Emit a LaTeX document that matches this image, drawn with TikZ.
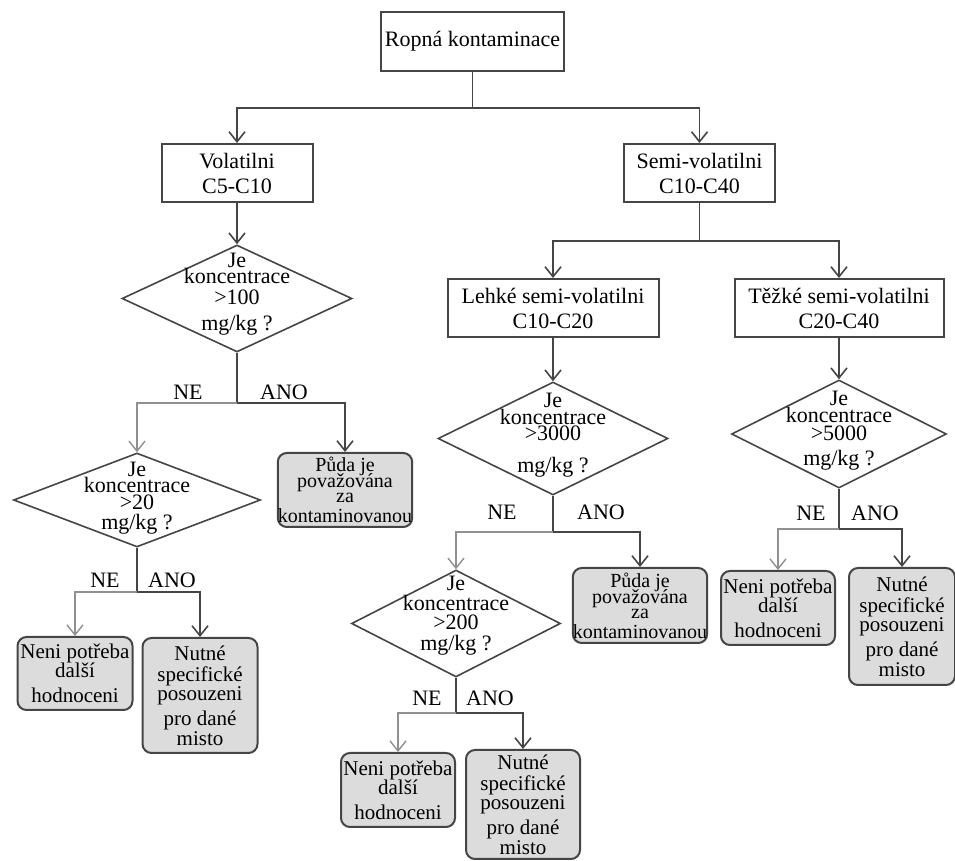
\documentclass[tikz,border=0pt]{standalone}
\usepackage{fontspec}
\setmainfont{Liberation Serif}
\usepackage{xcolor}
\usepackage{tikz}
\usetikzlibrary{shapes,arrows.meta}
\definecolor{linegray}{HTML}{454545}
\definecolor{negray}{HTML}{909090}
\definecolor{leafgray}{HTML}{DCDCDC}
\tikzset{
    box/.style={draw=linegray, line width=1pt, rectangle, inner sep=0pt, align=center, font=\fontsize{11}{12.5}\selectfont},
    leaf/.style={draw=linegray, line width=1pt, rectangle, rounded corners=4.5pt, fill=leafgray, inner sep=0pt, align=center, font=\fontsize{10.5}{10}\selectfont},
    question/.style={draw=linegray, line width=0.8pt, diamond, inner sep=0pt},
    qtext/.style={align=center, inner sep=0pt, font=\fontsize{11}{10}\selectfont},
    answer/.style={inner sep=0pt, font=\fontsize{11}{12}\selectfont},
    vtip/.tip={Straight Barb[length=5pt,width=8pt]},
    link/.style={draw=linegray, line width=0.8pt},
    nolink/.style={draw=negray, line width=0.7pt}}

\begin{document}
\begin{tikzpicture}[x=0.5pt,y=-0.5pt]
\useasboundingbox (0,0) rectangle (955,861);

\node[box, minimum width=91.5pt, minimum height=29.5pt] (top) at (472.5,41.5) {Ropná kontaminace};
\node[box, minimum width=75.5pt, minimum height=29pt] (vol) at (237,173) {Volatilni\\C5-C10};
\node[box, minimum width=75.5pt, minimum height=29pt] (semi) at (699.5,173) {Semi-volatilni\\C10-C40};
\node[box, minimum width=105.5pt, minimum height=29pt] (light) at (553,308) {Lehké semi-volatilni\\C10-C20};
\node[box, minimum width=104.5pt, minimum height=29pt] (heavy) at (839,308) {Těžké semi-volatilni\\C20-C40};

\node[question, minimum width=115pt, minimum height=53.5pt] (q1) at (237,298.5) {};
\node[qtext] (q1t) at (237,294) {Je\\[-2pt]koncentrace\\[0.5pt]>100\\[3pt]mg/kg ?};
\node[question, minimum width=123.5pt, minimum height=47pt] (q2) at (137,500) {};
\node[qtext] (q2t) at (137,498) {Je\\[-2pt]koncentrace\\[-1.5pt]>20\\mg/kg ?};
\node[question, minimum width=115pt, minimum height=56.5pt] (q3) at (553,438.5) {};
\node[qtext] (q3t) at (553,435) {Je\\[-1.5pt]koncentrace\\[-2pt]>3000\\[6pt]mg/kg ?};
\node[question, minimum width=104.5pt, minimum height=53.5pt] (q4) at (456,623.5) {};
\node[qtext] (q4t) at (456,615.5) {Je\\koncentrace\\[-0.5pt]>200\\[0.5pt]mg/kg ?};
\node[question, minimum width=107.5pt, minimum height=54pt] (q5) at (839,434) {};
\node[qtext] (q5t) at (839,430.5) {Je\\[-1.5pt]koncentrace\\[-1pt]>5000\\[2.5pt]mg/kg ?};

\node[leaf, minimum width=64.5pt, minimum height=37pt, font=\fontsize{10}{10}\selectfont] (p1) at (345,490) {Půda je\\[-2pt]považována\\[-2.5pt]za\\kontaminovanou};
\node[leaf, minimum width=57.5pt, minimum height=36.5pt] (n1) at (75,673.5) {Neni potřeba\\[-0.5pt]další\\[2.5pt]hodnoceni};
\node[leaf, minimum width=57.5pt, minimum height=57.5pt] (y1) at (200,695.5) {Nutné\\[0.5pt]specifické\\[-0.5pt]posouzeni\\[2.5pt]pro dané\\misto};
\node[leaf, minimum width=66pt, minimum height=37.5pt, font=\fontsize{10}{10}\selectfont] (p2) at (640,605.5) {Půda je\\[-2pt]považována\\[-2.5pt]za\\kontaminovanou};
\node[leaf, minimum width=57pt, minimum height=37pt] (n3) at (398,790) {Neni potřeba\\[-0.5pt]další\\[2.5pt]hodnoceni};
\node[leaf, minimum width=57pt, minimum height=54.5pt] (y3) at (523,804.5) {Nutné\\[0.5pt]specifické\\[-0.5pt]posouzeni\\[2.5pt]pro dané\\misto};
\node[leaf, minimum width=57pt, minimum height=37pt] (n5) at (778,608) {Neni potřeba\\[-0.5pt]další\\[2.5pt]hodnoceni};
\node[leaf, minimum width=53pt, minimum height=58.5pt] (y5) at (902,626.5) {Nutné\\[0.5pt]specifické\\[-0.5pt]posouzeni\\[2.5pt]pro dané\\misto};

\coordinate (s0) at (472.5,108);
\coordinate (s1) at (699.5,241);
\coordinate (s2) at (237,403);
\coordinate (s3) at (137,592);
\coordinate (s4) at (553,532);
\coordinate (s5) at (456,713);
\coordinate (s6) at (839,529);

\draw [link] (top) -- (s0);
\draw [link,-{vtip}] (s0) -| (vol);
\draw [link,-{vtip}] (s0) -| (semi);
\draw [link] (semi) -- (s1);
\draw [link,-{vtip}] (s1) -| (light);
\draw [link,-{vtip}] (s1) -| (heavy);
\draw [link,-{vtip}] (vol) -- (q1);
\draw [link,-{vtip}] (light) -- (q3);
\draw [link,-{vtip}] (heavy) -- (q5);

\draw [link] (q1) -- (s2);
\draw [nolink,-{vtip}] (s2) -| (q2);
\draw [link,-{vtip}] (s2) -| (p1);
\draw [link] (q2) -- (s3);
\draw [nolink,-{vtip}] (s3) -| (n1);
\draw [link,-{vtip}] (s3) -| (y1);
\draw [link] (q3) -- (s4);
\draw [nolink,-{vtip}] (s4) -| (q4);
\draw [link,-{vtip}] (s4) -| (p2);
\draw [link] (q4) -- (s5);
\draw [nolink,-{vtip}] (s5) -| (n3);
\draw [link,-{vtip}] (s5) -| (y3);
\draw [link] (q5) -- (s6);
\draw [nolink,-{vtip}] (s6) -| (n5);
\draw [link,-{vtip}] (s6) -| (y5);

\node[answer] (ne1) at (188,392) {NE};
\node[answer] (ano1) at (284,392) {ANO};
\node[answer] (ne2) at (105,580) {NE};
\node[answer] (ano2) at (172,580) {ANO};
\node[answer] (ne3) at (502,512) {NE};
\node[answer] (ano3) at (601,512) {ANO};
\node[answer] (ne4) at (427,698) {NE};
\node[answer] (ano4) at (490,698) {ANO};
\node[answer] (ne5) at (811,513) {NE};
\node[answer] (ano5) at (875,513) {ANO};
\end{tikzpicture}
\end{document}
